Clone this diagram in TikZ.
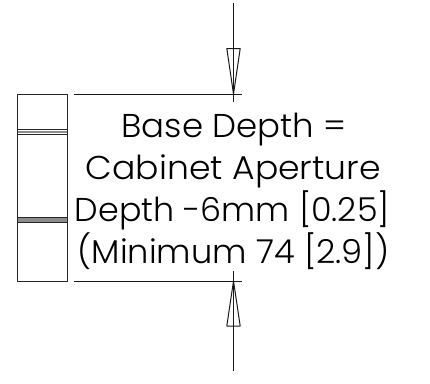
\documentclass[tikz,border=0pt]{standalone}
\usepackage{fontspec}
\setmainfont{Poppins Light}
\tikzset{
  outline/.style={line width=1pt,draw=black!85},
  dimline/.style={line width=1pt,draw=black!90},
  label/.style={font=\fontsize{33}{41}\selectfont,anchor=base,inner sep=0pt,text=black,transform shape},
}
\begin{document}
\begin{tikzpicture}[x=1pt,y=-1pt]
\useasboundingbox (0,0) rectangle (430,383);
% cabinet side view
\fill[black!45] (17,130.5) rectangle (67,133);
\fill[black!45] (17,218) rectangle (67,221.5);
\draw[outline] (17,94) rectangle (67,281);
\foreach \yy in {129.5,134,217.5,222.5}
  \draw[outline] (17,\yy) -- (67,\yy);
% extension lines
\coordinate (extTopL) at (74,94);
\coordinate (extTopR) at (241.5,94);
\coordinate (extBotL) at (74,281);
\coordinate (extBotR) at (241.5,281);
\draw[dimline] (extTopL) -- (extTopR);
\draw[dimline] (extBotL) -- (extBotR);
% dimension arrows
\coordinate (arrTopS) at (233.5,3);
\coordinate (arrTopE) at (233.5,102);
\coordinate (arrBotS) at (233.5,371);
\coordinate (arrBotE) at (233.5,271);
\draw[dimline] (arrTopS) -- (arrTopE);
\draw[dimline] (arrBotS) -- (arrBotE);
\draw[dimline,line join=round] (226.8,48.5) -- (240.2,48.5) -- (233.5,94) -- cycle;
\draw[dimline,line join=round] (226.8,326) -- (240.2,326) -- (233.5,281) -- cycle;
% text
\node[label,xscale=1.03] (t1) at (234,137.5) {Base Depth =};
\node[label,xscale=1.05] (t2) at (233.3,179.5) {Cabinet Aperture};
\node[label,xscale=1.01] (t3) at (232.3,221.7) {Depth -6mm [0.25]};
\node[label,xscale=1.02] (t4) at (233.5,263) {(Minimum 74 [2.9])};
\end{tikzpicture}
\end{document}
